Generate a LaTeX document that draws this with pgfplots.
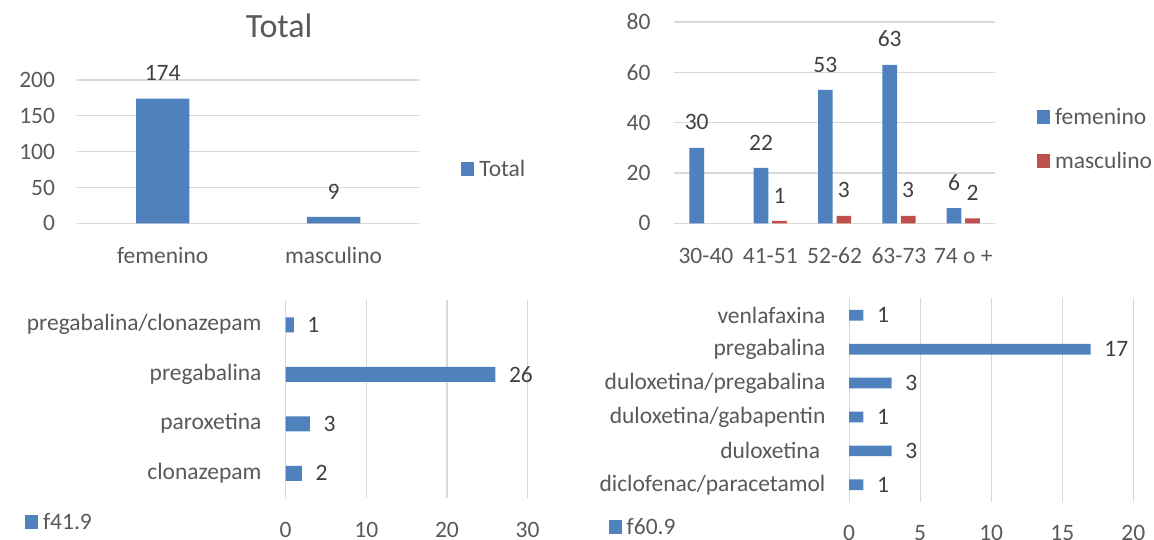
\documentclass[border=0pt]{standalone}
\usepackage{fontspec}
\setmainfont{Carlito}
\usepackage{pgfplots}
\pgfplotsset{compat=1.18}

\definecolor{barblue}{HTML}{4F81BD}
\definecolor{barred}{HTML}{C0504D}
\definecolor{ticktext}{HTML}{595959}
\definecolor{valtext}{HTML}{404040}
\definecolor{gridgray}{HTML}{D9D9D9}

\newcommand\lblfont{\fontsize{23.5}{28}\selectfont}
\newcommand\ttlfont{\fontsize{34}{40}\selectfont}

\pgfplotsset{
  office/.style={
    scale only axis,
    enlargelimits=false,
    axis line style={draw=none},
    major tick length=0pt,
    tick style={draw=none},
    grid style={gridgray, line width=1.1pt},
    /pgf/number format/assume math mode=true,
    tick label style={font=\lblfont, text=ticktext, inner sep=0pt},
    nodes near coords style={font=\lblfont, text=valtext, inner sep=0pt},
    legend style={draw=none, fill=none, inner sep=0pt, outer sep=0pt,
      font=\lblfont, text=ticktext, column sep=5pt, row sep=28pt,
      nodes={inner sep=0pt, text height=16pt, text depth=0pt},
      cells={anchor=base west}},
  },
  % square key, set after ybar/xbar so that it is not replaced
  sqlegend/.style={
    legend image code/.code={\fill[##1, draw=none] (0pt,0.5pt) rectangle (13pt,14.5pt);},
  },
}

\begin{document}
\begin{tikzpicture}
\useasboundingbox (0,0) rectangle (1154pt,-540pt);

% Total by sex
\begin{axis}[office,
  at={(77.2pt,-223.3pt)}, anchor=south west,
  width=341.9pt, height=143.3pt,
  ybar, bar width=53.3pt, sqlegend,
  xmin=-0.5, xmax=1.5, ymin=0, ymax=200,
  ytick={0,50,...,200}, ymajorgrids,
  xtick={0,1}, xticklabels={femenino,masculino},
  xticklabel style={anchor=base, yshift=-39.7pt},
  yticklabel style={anchor=east, xshift=-22pt},
  nodes near coords,
  nodes near coords style={anchor=south, yshift=17.5pt},
  title={Total},
  title style={at={(0.591,1.2966)}, anchor=base, yshift=-6pt, font=\ttlfont, text=ticktext},
  legend style={at={(1.1237,0.330)}, anchor=south west},
]
\addplot[fill=barblue, draw=none] coordinates {(0,174) (1,9)};
\addlegendentry{Total}
\end{axis}

% Age groups by sex
\begin{axis}[office,
  at={(673.75pt,-223.3pt)}, anchor=south west,
  width=321.7pt, height=201.3pt,
  ybar=3.8pt, bar width=14.7pt, sqlegend,
  xmin=-0.5, xmax=4.5, ymin=0, ymax=80,
  ytick={0,20,...,80}, ymajorgrids,
  xtick={0,...,4}, xticklabels={30-40,41-51,52-62,63-73,74 o +},
  xticklabel style={anchor=base, yshift=-39.7pt},
  yticklabel style={anchor=east, xshift=-23pt},
  nodes near coords,
  nodes near coords style={anchor=south, yshift=17.5pt},
  legend style={at={(1.1292,0.2747)}, anchor=south west},
]
\addplot[fill=barblue, draw=none] coordinates {(0,30) (1,22) (2,53) (3,63) (4,6)};
\addlegendentry{femenino}
\addplot[fill=barred, draw=none] coordinates {(1,1) (2,3) (3,3) (4,2)};
\addlegendentry{masculino}
\end{axis}

% f41.9 treatments
\begin{axis}[office,
  at={(285.7pt,-498pt)}, anchor=south west,
  width=241.9pt, height=198pt,
  xbar, bar width=15pt, sqlegend,
  xmin=0, xmax=30, ymin=-0.5, ymax=3.5,
  xtick={0,10,20,30}, xmajorgrids,
  ytick={0,...,3},
  yticklabels={clonazepam,paroxetina,pregabalina,pregabalina/clonazepam},
  yticklabel style={anchor=east, xshift=-24pt},
  xticklabel style={anchor=base, yshift=-39pt},
  nodes near coords,
  nodes near coords style={anchor=west, xshift=13.5pt},
  legend style={at={(-1.0777,-0.158)}, anchor=south west},
]
\addplot[fill=barblue, draw=none] coordinates {(2,0) (3,1) (26,2) (1,3)};
\addlegendentry{f41.9}
\end{axis}

% f60.9 treatments
\begin{axis}[office,
  at={(849.1pt,-501.7pt)}, anchor=south west,
  width=284.2pt, height=203.4pt,
  xbar, bar width=10.7pt, sqlegend,
  xmin=0, xmax=20, ymin=-0.5, ymax=5.5,
  xtick={0,5,...,20}, xmajorgrids,
  ytick={0,...,5},
  yticklabels={diclofenac/paracetamol,{duloxetina\ \ },duloxetina/gabapentin,duloxetina/pregabalina,pregabalina,venlafaxina},
  yticklabel style={anchor=east, xshift=-23.5pt},
  xticklabel style={anchor=base, yshift=-39pt},
  nodes near coords,
  nodes near coords style={anchor=west, xshift=13.5pt},
  legend style={at={(-0.8459,-0.1637)}, anchor=south west},
]
\addplot[fill=barblue, draw=none] coordinates {(1,0) (3,1) (1,2) (3,3) (17,4) (1,5)};
\addlegendentry{f60.9}
\end{axis}
\end{tikzpicture}
\end{document}
